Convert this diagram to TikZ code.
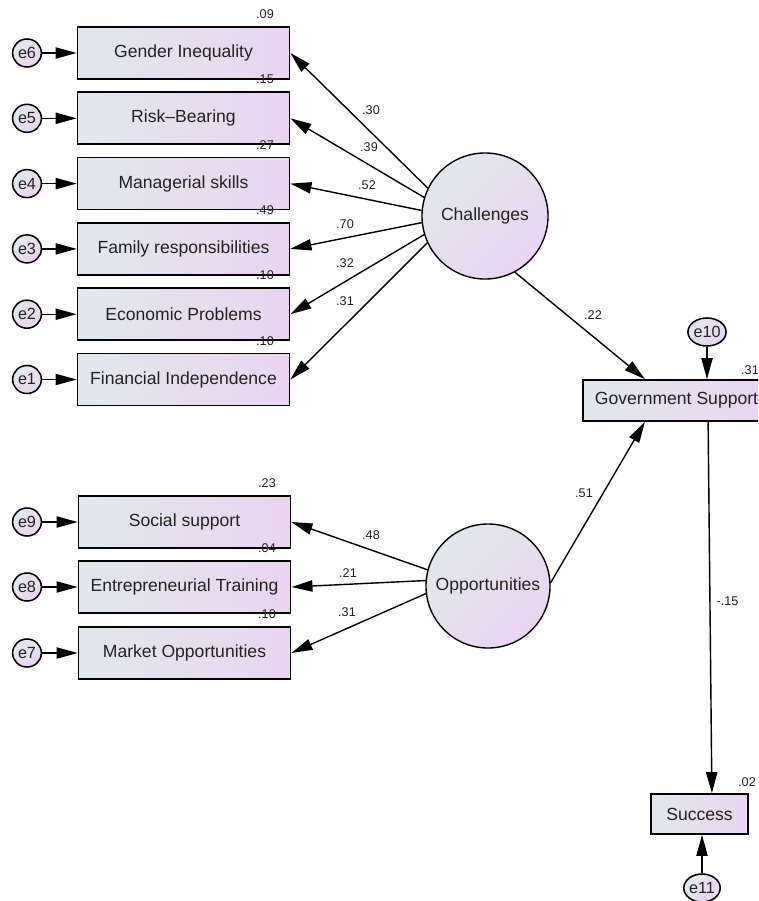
\documentclass[tikz,border=0pt]{standalone}
\usepackage{fontspec}
\setmainfont{Liberation Sans}
\usepackage{tikz}
\usetikzlibrary{arrows.meta,shapes.geometric}

\definecolor{shadeblue}{RGB}{225,232,236}
\definecolor{shadepurple}{RGB}{235,212,242}
\definecolor{inkgray}{RGB}{34,34,34}

\tikzset{
  obsbox/.style={draw, line width=1.2pt, left color=shadeblue, right color=shadepurple,
    minimum width=5.3cm, minimum height=1.3cm, inner sep=0pt, text=inkgray,
    font=\fontsize{12.5}{14}\selectfont},
  latent/.style={circle, draw, line width=1pt, top color=shadeblue, bottom color=shadepurple,
    shading angle=45, inner sep=0pt, text=inkgray, font=\fontsize{12.5}{14}\selectfont},
  errvar/.style={ellipse, draw, line width=1.1pt, top color=shadeblue, bottom color=shadepurple,
    shading angle=45, minimum width=0.72cm, minimum height=0.7cm, inner sep=0pt,
    text=inkgray, font=\fontsize{11.5}{12}\selectfont},
  regr/.style={-{Triangle[length=15pt,width=8pt]}, line width=1pt},
  coef/.style={inner sep=0pt, text=inkgray, font=\fontsize{9}{10}\selectfont}
}

\begin{document}
\begin{tikzpicture}[x=0.025cm, y=-0.025cm]
\clip (0,0) rectangle (758,901);

% Challenges indicators
\node[obsbox] (gi) at (183.5,53) {Gender Inequality};
\node[obsbox] (rb) at (183.5,118.3) {Risk--Bearing};
\node[obsbox] (ms) at (183.5,183.6) {Managerial skills};
\node[obsbox] (fr) at (183.5,248.9) {Family responsibilities};
\node[obsbox] (ep) at (183.5,314.2) {Economic Problems};
\node[obsbox] (fi) at (183.5,379.5) {Financial Independence};

% Opportunities indicators
\node[obsbox] (ss) at (184.5,522) {Social support};
\node[obsbox] (et) at (184.5,587) {Entrepreneurial Training};
\node[obsbox] (mo) at (184.5,653) {Market Opportunities};

% Error terms
\node[errvar] (e6) at (27,53) {e6};
\node[errvar] (e5) at (27,118.3) {e5};
\node[errvar] (e4) at (27,183.6) {e4};
\node[errvar] (e3) at (27,248.9) {e3};
\node[errvar] (e2) at (27,314.2) {e2};
\node[errvar] (e1) at (27,379.5) {e1};
\node[errvar] (e9) at (27,522) {e9};
\node[errvar] (e8) at (27,587) {e8};
\node[errvar] (e7) at (27,653) {e7};

% Latent variables
\node[latent, minimum size=3.15cm] (ch) at (485,216) {Challenges};
\node[latent, minimum size=3.1cm] (op) at (488,586) {Opportunities};

% Outcomes
\node[obsbox, minimum width=4.675cm, minimum height=1.025cm] (gov) at (676.5,400.5) {Government Support};
\node[obsbox, minimum width=2.425cm, minimum height=1cm] (suc) at (699.5,814) {Success};
\node[errvar] (e10) at (707,332) {e10};
\node[errvar] (e11) at (702,888) {e11};

% Error arrows
\draw[regr] (e6) -- (gi);
\draw[regr] (e5) -- (rb);
\draw[regr] (e4) -- (ms);
\draw[regr] (e3) -- (fr);
\draw[regr] (e2) -- (ep);
\draw[regr] (e1) -- (fi);
\draw[regr] (e9) -- (ss);
\draw[regr] (e8) -- (et);
\draw[regr] (e7) -- (mo);
\draw[regr] (e10) -- (e10 |- gov.north);
\draw[regr] (e11) -- (e11 |- suc.south);

% Loadings
\draw[regr] (ch.154) -- (gi.east);
\draw[regr] (ch.163) -- (rb.east);
\draw[regr] (ch.175) -- (ms.east);
\draw[regr] (ch.186) -- (fr.east);
\draw[regr] (ch.197) -- (ep.east);
\draw[regr] (ch.205) -- (fi.east);
\draw[regr] (op.165) -- (ss.east);
\draw[regr] (op.175) -- (et.east);
\draw[regr] (op.187.5) -- (mo.east);

% Structural paths
\draw[regr] (ch.-62) -- ([xshift=-0.79cm]gov.north);
\draw[regr] (op.3) -- ([xshift=-0.79cm]gov.south);
\draw[regr] ([xshift=0.79cm]gov.south) -- ([xshift=0.31cm]suc.north);

% Path coefficients
\node[coef] (w1) at (371,110) {.30};
\node[coef] (w2) at (369,147) {.39};
\node[coef] (w3) at (367,185) {.52};
\node[coef] (w4) at (345,224) {.70};
\node[coef] (w5) at (345,263) {.32};
\node[coef] (w6) at (345,301) {.31};
\node[coef] (w7) at (371,535) {.48};
\node[coef] (w8) at (348,573) {.21};
\node[coef] (w9) at (347,612) {.31};
\node[coef] (w10) at (593,315) {.22};
\node[coef] (w11) at (584,493) {.51};
\node[coef] (w12) at (727.5,601) {-.15};

% Squared multiple correlations
\node[coef] (r1) at (265,14) {.09};
\node[coef] (r2) at (265,79) {.15};
\node[coef] (r3) at (265,145) {.27};
\node[coef] (r4) at (265,210) {.49};
\node[coef] (r5) at (265,275) {.10};
\node[coef] (r6) at (265,341) {.10};
\node[coef] (r7) at (267,483) {.23};
\node[coef] (r8) at (267,548) {.04};
\node[coef] (r9) at (267,614) {.10};
\node[coef] (r10) at (750,370) {.31};
\node[coef] (r11) at (747,782) {.02};
\end{tikzpicture}
\end{document}
